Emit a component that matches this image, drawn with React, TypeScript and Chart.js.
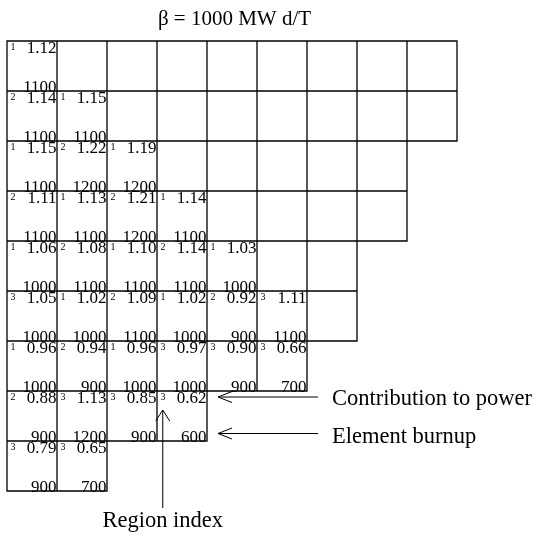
import React, { useEffect, useRef } from "react";
import { Chart, registerables } from "chart.js";

Chart.register(...registerables);

const titleText = "β = 1000 MW d/T";
const cellsPerRow = [9, 9, 8, 8, 7, 7, 6, 4, 2];
const powerByRow = [
  [1.12],
  [1.14, 1.15],
  [1.15, 1.22, 1.19],
  [1.11, 1.13, 1.21, 1.14],
  [1.06, 1.08, 1.10, 1.14, 1.03],
  [1.05, 1.02, 1.09, 1.02, 0.92, 1.11],
  [0.96, 0.94, 0.96, 0.97, 0.90, 0.66],
  [0.88, 1.13, 0.85, 0.62],
  [0.79, 0.65],
];
const regionByRow = [
  [1],
  [2, 1],
  [1, 2, 1],
  [2, 1, 2, 1],
  [1, 2, 1, 2, 1],
  [3, 1, 2, 1, 2, 3],
  [1, 2, 1, 3, 3, 3],
  [2, 3, 3, 3],
  [3, 3],
];
const burnupByRow = [
  [1100],
  [1100, 1100],
  [1100, 1200, 1200],
  [1100, 1100, 1200, 1100],
  [1000, 1100, 1100, 1100, 1000],
  [1000, 1000, 1100, 1000, 900, 1100],
  [1000, 900, 1000, 1000, 900, 700],
  [900, 1200, 900, 600],
  [900, 700],
];
const labelPower = "Contribution to power";
const labelBurnup = "Element burnup";
const labelRegion = "Region index";

const FONT = "'Liberation Serif', 'Times New Roman', serif";

const gridPlugin = {
  id: "gridCells",
  afterDraw(chart: any) {
    const ctx = chart.ctx as CanvasRenderingContext2D;
    const xs = chart.scales.x;
    const ys = chart.scales.y;
    const X = (v: number) => xs.getPixelForValue(v);
    const Y = (v: number) => ys.getPixelForValue(v);
    ctx.save();

    // grid cells
    ctx.beginPath();
    cellsPerRow.forEach((n, r) => {
      for (let c = 0; c < n; c++) {
        ctx.rect(X(c), Y(r), X(c + 1) - X(c), Y(r + 1) - Y(r));
      }
    });
    ctx.strokeStyle = "#000";
    ctx.lineWidth = 1.3;
    ctx.stroke();

    ctx.fillStyle = "#000";
    powerByRow.forEach((row, r) => {
      row.forEach((p, c) => {
        const left = X(c);
        const right = X(c + 1);
        const top = Y(r);
        const bottom = Y(r + 1);
        ctx.textBaseline = "alphabetic";
        ctx.font = `10px ${FONT}`;
        ctx.textAlign = "left";
        ctx.fillText(String(regionByRow[r][c]), left + 3.5, top + 8.5);
        ctx.font = `17px ${FONT}`;
        ctx.textAlign = "right";
        ctx.fillText(p.toFixed(2), right - 0.5, top + 12);
        ctx.fillText(String(burnupByRow[r][c]), right - 0.5, bottom + 0.5);
      });
    });

    // title
    ctx.font = `21px ${FONT}`;
    ctx.textAlign = "center";
    ctx.fillText(titleText, (X(0) + X(9)) / 2 + 2.5, 25);

    // annotations
    const arrowY1 = (Y(7) + Y(7.2)) / 2 + 1;
    const arrowY2 = Y(7.85);
    const tipX = X(4.22);
    const tailX = X(6.22);
    ctx.lineWidth = 1;
    ctx.beginPath();
    [arrowY1, arrowY2].forEach((ay) => {
      ctx.moveTo(tailX, ay);
      ctx.lineTo(tipX, ay);
      ctx.moveTo(tipX + 14, ay - 5.5);
      ctx.lineTo(tipX, ay);
      ctx.lineTo(tipX + 14, ay + 5.5);
    });
    const vx = X(3.115);
    const vTip = Y(7.38);
    const vTail = Y(9.34);
    ctx.moveTo(vx, vTail);
    ctx.lineTo(vx, vTip);
    ctx.moveTo(vx - 7, vTip + 11);
    ctx.lineTo(vx, vTip);
    ctx.lineTo(vx + 7, vTip + 11);
    ctx.stroke();

    ctx.font = `22.5px ${FONT}`;
    ctx.textAlign = "left";
    ctx.fillText(labelPower, X(6.5), 405);
    ctx.fillText(labelBurnup, X(6.5), 443);
    ctx.textAlign = "center";
    ctx.fillText(labelRegion, vx, 527);
    ctx.restore();
  },
};

export default function App() {
  const ref = useRef<HTMLCanvasElement | null>(null);
  useEffect(() => {
    if (!ref.current) return;
    const points: { x: number; y: number }[] = [];
    powerByRow.forEach((row, r) => row.forEach((_, c) => points.push({ x: c + 0.5, y: r + 0.5 })));
    const chart = new Chart(ref.current, {
      type: "scatter",
      data: {
        datasets: [{ data: points, pointRadius: 0, pointHoverRadius: 0 }],
      },
      options: {
        responsive: false,
        animation: false,
        events: [],
        layout: { padding: { left: 7, right: 76, top: 41, bottom: 44 } },
        plugins: { legend: { display: false }, tooltip: { enabled: false }, title: { display: false } },
        scales: {
          x: { type: "linear", min: 0, max: 9, display: false },
          y: { type: "linear", min: 0, max: 9, reverse: true, display: false },
        },
      },
      plugins: [gridPlugin],
    });
    return () => chart.destroy();
  }, []);
  return (
    <div style={{ position: "fixed", left: 0, top: 0, width: 533, height: 535, background: "#fff" }}>
      <canvas ref={ref} width={533} height={535} style={{ width: 533, height: 535 }} />
    </div>
  );
}
